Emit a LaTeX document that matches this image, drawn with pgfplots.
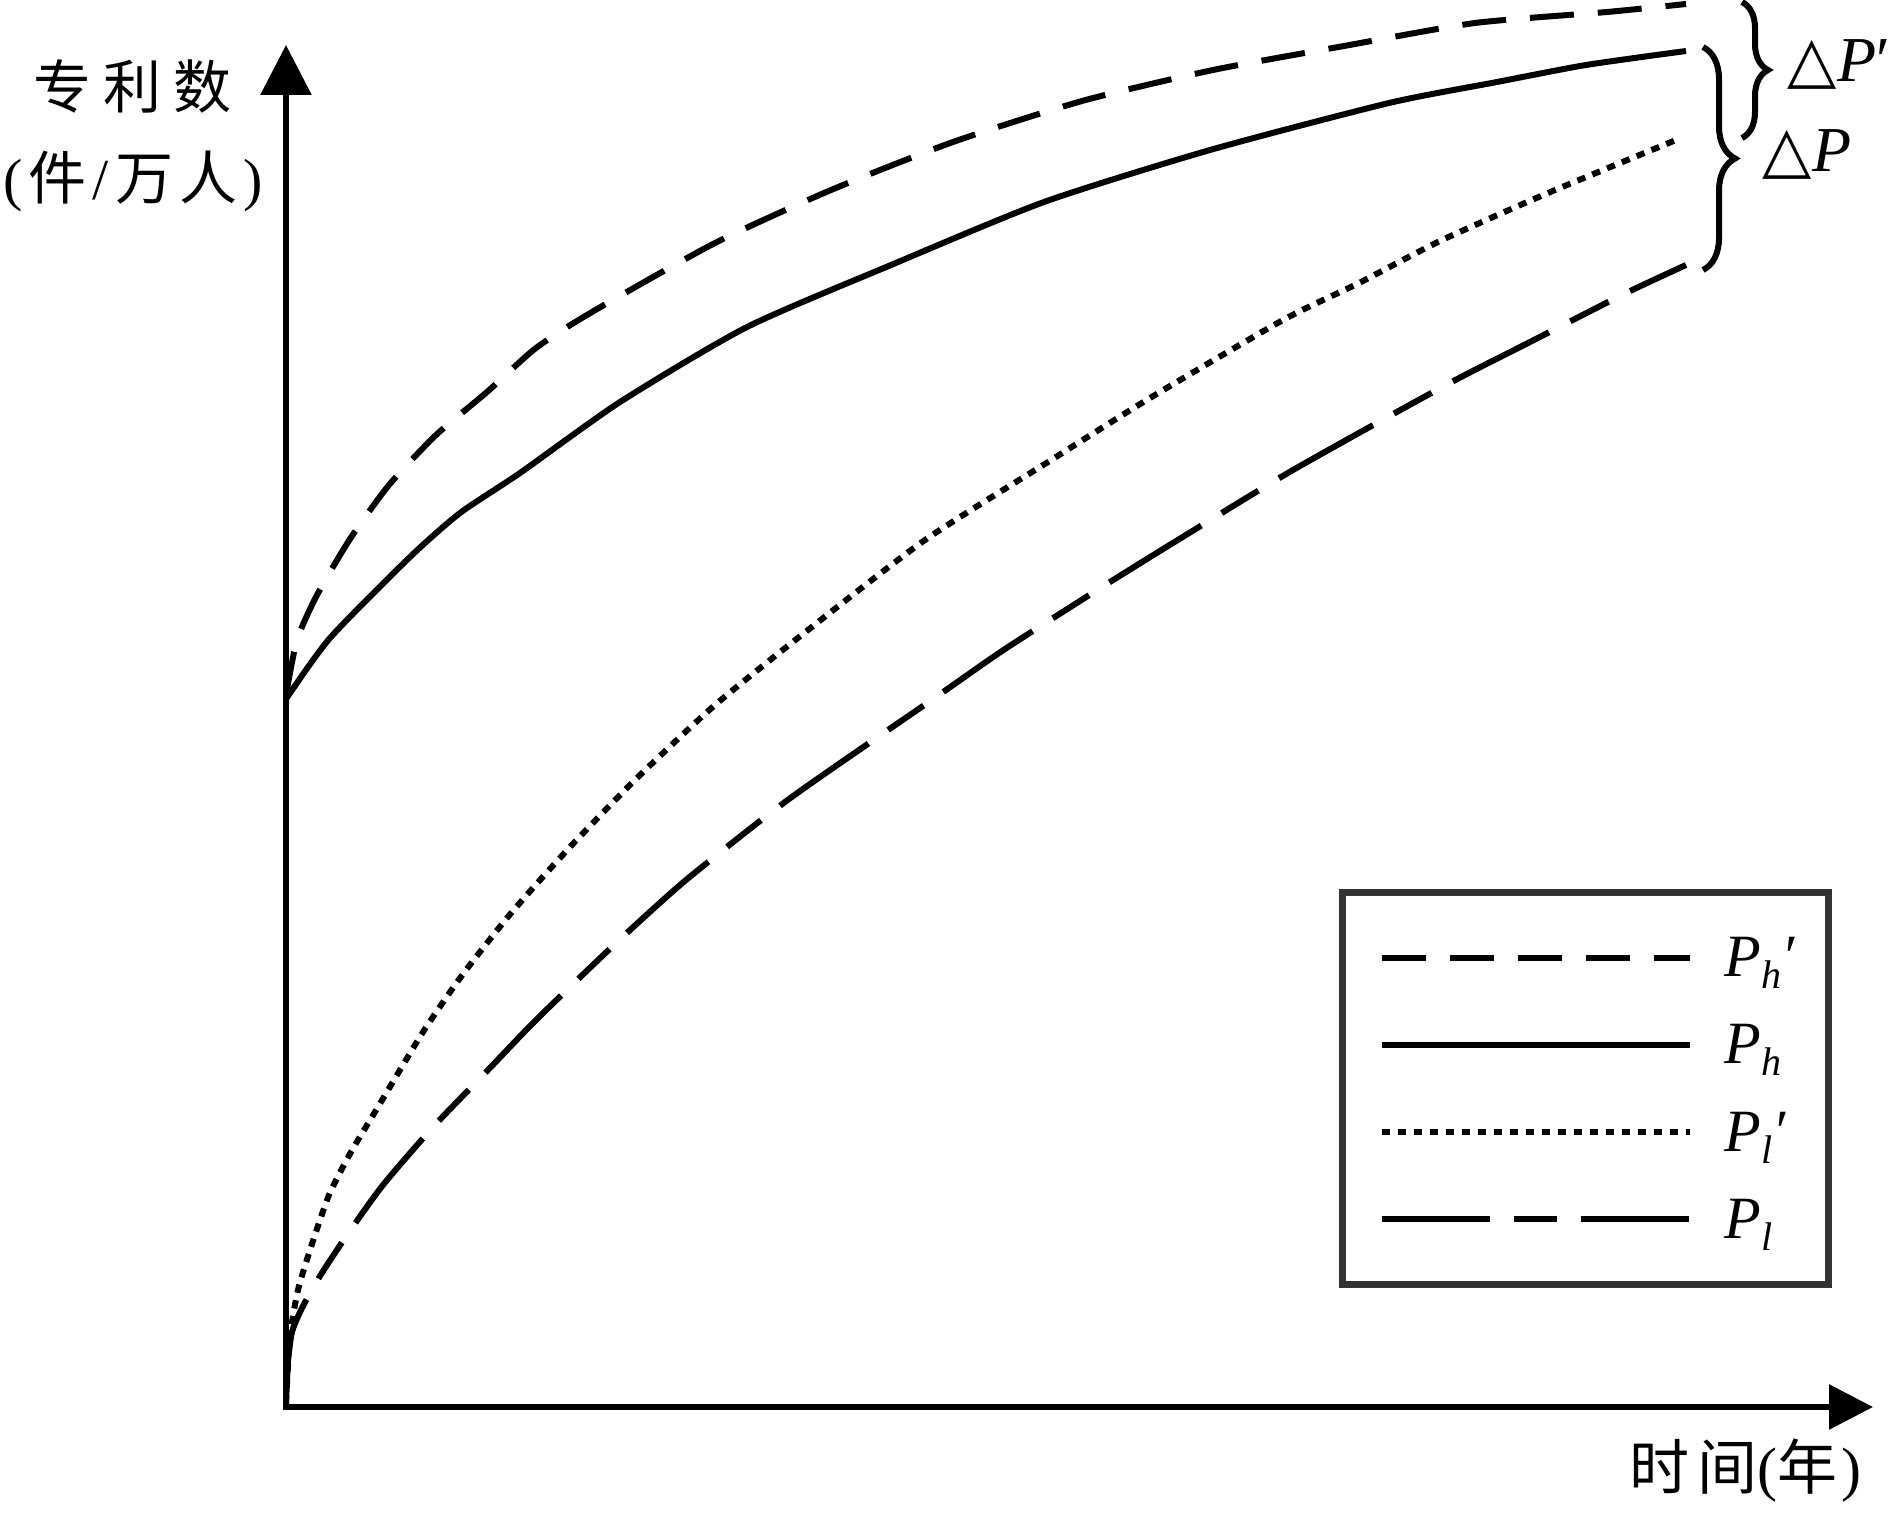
\documentclass[border=0pt]{standalone}
\usepackage{pgfplots}
\pgfplotsset{compat=1.18}
\usepackage{fontspec}
\setmainfont{Liberation Serif}
\newfontfamily\cjk{Noto Sans CJK SC}
\newfontfamily\sym{DejaVu Sans}
\usetikzlibrary{arrows.meta,decorations.pathreplacing}

% legend label: italic P with a subscript and an optional prime after it
\newcommand{\Plab}[2]{\makebox[17pt][l]{\fontsize{15pt}{15pt}\selectfont\itshape P\raisebox{-3pt}{\fontsize{10pt}{10pt}\selectfont #1}#2}}
\newcommand{\zh}[1]{{\cjk #1}}

\pgfplotsset{
  curve/.style={black, line width=1.5pt, smooth, tension=0.4, mark=none},
}

\begin{document}
\begin{tikzpicture}
\begin{axis}[
  x=0.25pt, y=0.25pt,
  xmin=-286, xmax=1609, ymin=-107, ymax=1407,
  hide axis, clip=false,
  legend cell align=left,
  legend image code/.code={\draw[#1] (0pt,0pt) -- (77pt,0pt);},
  legend style={
    at={(0.70660,0.41281)}, anchor=north west,
    draw=black!80, line width=1.75pt, fill=white,
    inner xsep=9pt, inner ysep=5.4pt,
    column sep=8pt, row sep=0pt,
    nodes={inner sep=0pt, text height=15.65pt, text depth=6.15pt},
  },
]
% P_h' : high-level patents, shifted
\addplot[curve, dash pattern=on 11pt off 6pt] coordinates {
  (0,712) (11,767) (31,812) (64,868) (103,922) (150,972) (201,1015)
  (250,1059) (306,1095) (429,1164) (545,1217) (667,1265) (796,1306)
  (927,1337) (1058,1361) (1189,1384) (1321,1395) (1400,1403)
};
\addlegendentry{\Plab{h}{′}}
% P_h
\addplot[curve] coordinates {
  (0,708) (44,769) (124,850) (174,894) (234,934) (334,1005) (461,1080)
  (605,1142) (758,1205) (924,1257) (1103,1304) (1211,1325) (1300,1342)
  (1400,1356)
};
\addlegendentry{\Plab{h}{}}
% P_l'
\addplot[curve, dash pattern=on 2.1pt off 1.9pt] coordinates {
  (0,3) (4,70) (12,117) (25,160) (43,212) (65,255) (92,300) (137,375)
  (177,433) (226,495) (284,560) (351,629) (429,702) (522,777) (639,867)
  (762,945) (864,1009) (997,1087) (1073,1124) (1154,1166) (1262,1214)
  (1390,1267)
};
\addlegendentry{\Plab{l}{′}}
% P_l
\addplot[curve, dash pattern=on 27pt off 6pt on 10.75pt off 6pt] coordinates {
  (0,3) (2,45) (6,75) (16,99) (34,131) (61,172) (97,222) (148,281)
  (202,337) (251,388) (329,463) (400,527) (503,608) (650,710) (719,758)
  (816,820) (895,869) (1007,937) (1160,1022) (1244,1065) (1338,1113)
  (1400,1142)
};
\addlegendentry{\Plab{l}{}}

% axes with arrow heads
\draw[line width=1.5pt, -{Triangle[length=12.5pt,width=12.5pt]}]
  (axis cs:0,-3) -- (axis cs:0,1362);
\draw[line width=1.5pt, -{Triangle[length=11pt,width=11pt]}]
  (axis cs:-3,0) -- (axis cs:1587,0);

% axis titles
\node[anchor=base, inner sep=0pt, font=\fontsize{14.5pt}{17pt}\selectfont]
  at (axis cs:-153,1298) {\zh{专\hspace{3pt}利\hspace{3pt}数}};
\node[anchor=base, inner sep=0pt, font=\fontsize{14.5pt}{17pt}\selectfont]
  at (axis cs:-153,1207) {(\hspace{1.5pt}\zh{件}\hspace{1.5pt}/\hspace{1.5pt}\zh{万}\hspace{1.5pt}\zh{人}\hspace{1.5pt})};
\node[anchor=base, inner sep=0pt, font=\fontsize{15pt}{17pt}\selectfont]
  at (axis cs:1459,-82) {\zh{时}\hspace{2pt}\zh{间}(\zh{年}\hspace{1pt})};

% gaps between the curve pairs
\draw[line width=1.5pt, decorate, decoration={brace, amplitude=8pt}]
  (axis cs:1417,1360) -- (axis cs:1417,1137);
\draw[line width=1.5pt, decorate, decoration={brace, amplitude=6.5pt}]
  (axis cs:1456,1405) -- (axis cs:1456,1269);
\node[anchor=base west, inner sep=0pt, font=\fontsize{16pt}{16pt}\selectfont]
  at (axis cs:1501,1325) {{\sym △}\textit{P}′};
\node[anchor=base west, inner sep=0pt, font=\fontsize{16pt}{16pt}\selectfont]
  at (axis cs:1476,1235) {{\sym △}\textit{P}};

\coordinate (bl) at (axis cs:-286,-107);
\coordinate (tr) at (axis cs:1609,1407);
\end{axis}
\pgfresetboundingbox
\path (bl) rectangle (tr);
\end{tikzpicture}
\end{document}
